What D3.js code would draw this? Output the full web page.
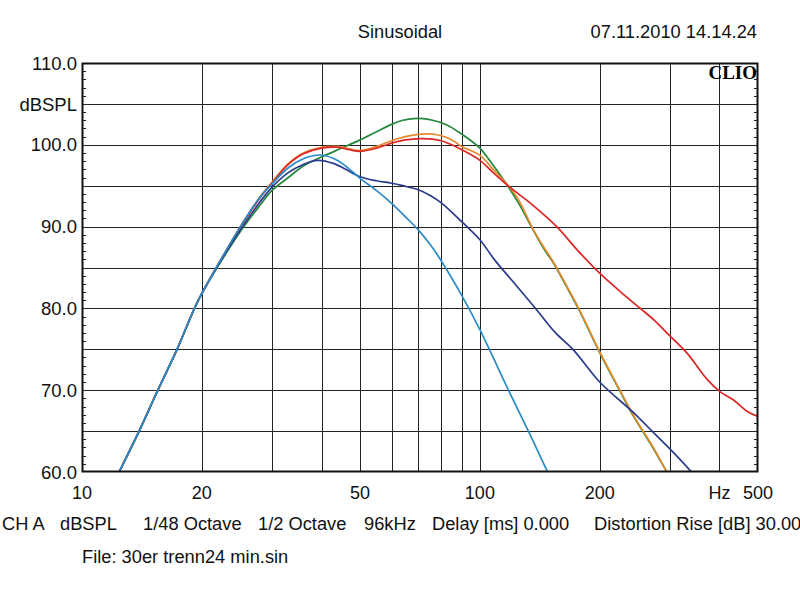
<!DOCTYPE html>
<html>
<head>
<meta charset="utf-8">
<script src="https://cdn.jsdelivr.net/npm/d3@7"></script>
<style>
  html, body { margin: 0; padding: 0; background: #fff; }
  svg { display: block; }
  text { font-family: "Liberation Sans", Arial, sans-serif; fill: #111; }
  text.clio { font-family: "Liberation Serif", "DejaVu Serif", serif; font-weight: bold; fill: #000; }
</style>
</head>
<body>
<svg id="chart" width="800" height="597"></svg>
<script>
// ---------- data ----------
const titleText = "Sinusoidal";
const dateText = "07.11.2010 14.14.24";
const xTickValues = [10, 20, 50, 100, 200, 400, 500];
const xTickLabels = ["10", "20", "50", "100", "200", "Hz", "500"];
const xGridValues = [20, 30, 40, 50, 60, 70, 80, 90, 100, 200, 300, 400];
const yTickValues = [110, 105, 100, 90, 80, 70, 60];
const yTickLabels = ["110.0", "dBSPL", "100.0", "90.0", "80.0", "70.0", "60.0"];
const footerItems = ["CH A", "dBSPL", "1/48 Octave", "1/2 Octave", "96kHz", "Delay [ms] 0.000", "Distortion Rise [dB] 30.00"];
const fileText = "File: 30er trenn24 min.sin";

const redFreq = [12, 12.4, 13.86, 15.47, 17.3, 19.17, 20, 22, 25, 28, 30, 33, 36, 40, 44, 47, 50, 55, 60, 65, 71, 76, 80, 85, 90, 100, 108, 117, 125, 136, 156, 176, 200, 226, 253, 275, 295, 332, 373, 402, 434, 470, 500];
const redDb   = [58.6, 60, 64.8, 69.9, 74.9, 80, 81.8, 85.4, 89.9, 93.5, 95.3, 97.6, 98.9, 99.6, 99.7, 99.4, 99.2, 99.6, 100.2, 100.6, 100.75, 100.7, 100.5, 100.0, 99.4, 98.1, 96.6, 95.1, 94.0, 92.6, 90.0, 87.1, 84.3, 82.0, 80.0, 78.5, 77.0, 74.5, 71.3, 69.8, 68.8, 67.4, 66.8];

const orangeFreq = [12, 12.4, 13.86, 15.47, 17.3, 19.17, 20, 22, 25, 28, 30, 33, 36, 40, 44, 47, 50, 55, 60, 65, 71, 76, 80, 85, 90, 100, 108, 117, 125, 136, 146, 152, 165, 178, 200, 226, 244, 272, 295, 300];
const orangeDb   = [58.6, 60, 64.8, 69.9, 74.9, 80, 81.8, 85.4, 90.0, 93.6, 95.4, 97.7, 99.0, 99.7, 99.8, 99.5, 99.3, 99.8, 100.5, 101.0, 101.3, 101.3, 101.1, 100.6, 99.8, 98.7, 97.0, 95.2, 93.3, 89.7, 87.2, 85.9, 82.8, 79.8, 74.7, 69.8, 66.8, 63.1, 60.0, 59.4];

const greenFreq = [12, 12.4, 13.86, 15.47, 17.3, 19.17, 20, 22, 25, 28, 30, 33, 36, 40, 45, 50, 55, 60, 64, 68, 72, 76, 81, 85, 90, 95, 100, 108, 117, 125, 136, 146, 152, 165, 178, 200, 226, 244, 272, 295, 300];
const greenDb   = [58.6, 60, 64.8, 69.9, 74.9, 80, 81.8, 85.2, 89.4, 92.6, 94.4, 96.0, 97.4, 98.5, 99.6, 100.6, 101.6, 102.5, 103.0, 103.2, 103.2, 103.0, 102.6, 102.1, 101.3, 100.5, 99.6, 97.5, 95.1, 92.9, 89.6, 87.0, 85.8, 82.7, 79.7, 74.6, 69.7, 66.7, 63.0, 60.0, 59.4];

const navyFreq = [12, 12.4, 13.86, 15.47, 17.3, 19.17, 20, 22, 25, 28, 30, 33, 36, 39, 43, 46, 50, 55, 60, 64, 70, 75, 80, 90, 100, 109, 120, 139, 155, 172, 200, 244, 272, 302, 340, 345];
const navyDb   = [58.6, 60, 64.8, 69.9, 74.9, 80, 81.8, 85.3, 89.6, 93.0, 94.8, 96.6, 97.6, 98.1, 97.7, 97.0, 96.1, 95.6, 95.3, 95.0, 94.5, 93.8, 92.9, 90.6, 88.4, 85.9, 83.5, 79.8, 77.0, 74.9, 71.0, 67.2, 64.9, 62.7, 60.0, 59.6];

const blueFreq = [12, 12.4, 13.86, 15.47, 17.3, 19.17, 20, 22, 25, 28, 30, 33, 36, 39.6, 42.8, 46, 50, 55, 60, 65, 70, 75, 80, 90, 100, 118, 133, 148, 150];
const blueDb   = [58.6, 60, 64.8, 69.9, 74.9, 80, 81.8, 85.4, 90.0, 93.6, 95.2, 97.2, 98.3, 98.75, 98.35, 97.4, 95.9, 94.4, 92.85, 91.2, 89.6, 87.8, 85.8, 81.6, 77.4, 70.0, 64.8, 60.0, 59.5];

const seriesNames = ["green", "orange", "red", "navy", "blue"];
const seriesColors = ["#23883a", "#e58a2c", "#dd2626", "#2b3b8c", "#2a8cc6"];

// ---------- layout ----------
const svg = d3.select("#chart");
const plotL = 82, plotR = 758, plotT = 63, plotB = 472;

const x = d3.scaleLog().domain([10, 500]).range([plotL, plotR]);
const y = d3.scaleLinear().domain([60, 110]).range([plotB, plotT]);

// grid
const grid = svg.append("g").attr("stroke", "#222").attr("stroke-width", 1).attr("shape-rendering", "crispEdges");
grid.selectAll("line.v").data(xGridValues).join("line")
  .attr("x1", d => Math.round(x(d)) + 0.5).attr("x2", d => Math.round(x(d)) + 0.5)
  .attr("y1", plotT).attr("y2", plotB);
grid.selectAll("line.h").data(d3.range(65, 110, 5)).join("line")
  .attr("x1", plotL).attr("x2", plotR)
  .attr("y1", d => Math.round(y(d)) + 0.5).attr("y2", d => Math.round(y(d)) + 0.5);

// minor ticks (1 dB) left and right
const minor = d3.range(61, 110, 1).filter(d => d % 5 !== 0);
const tickG = svg.append("g").attr("stroke", "#222").attr("stroke-width", 1).attr("shape-rendering", "crispEdges");
tickG.append("g").selectAll("line").data(minor).join("line")
  .attr("x1", plotL).attr("x2", plotL + 4)
  .attr("y1", d => Math.round(y(d)) + 0.5).attr("y2", d => Math.round(y(d)) + 0.5);
tickG.append("g").selectAll("line").data(minor).join("line")
  .attr("x1", plotR - 4).attr("x2", plotR)
  .attr("y1", d => Math.round(y(d)) + 0.5).attr("y2", d => Math.round(y(d)) + 0.5);

// clip
svg.append("clipPath").attr("id", "plotclip").append("rect")
  .attr("x", plotL).attr("y", plotT).attr("width", plotR - plotL).attr("height", plotB - plotT);

const line = d3.line().x(d => x(d[0])).y(d => y(d[1])).curve(d3.curveCatmullRom.alpha(0.5));
const seriesData = [
  d3.zip(greenFreq, greenDb),
  d3.zip(orangeFreq, orangeDb),
  d3.zip(redFreq, redDb),
  d3.zip(navyFreq, navyDb),
  d3.zip(blueFreq, blueDb)
];
svg.append("g").attr("clip-path", "url(#plotclip)")
  .selectAll("path").data(seriesData).join("path")
  .attr("d", line)
  .attr("fill", "none")
  .attr("stroke", (d, i) => seriesColors[i])
  .attr("stroke-width", 1.7);

// frame
svg.append("rect").attr("x", plotL + 0.5).attr("y", plotT + 0.5)
  .attr("width", plotR - plotL - 1).attr("height", plotB - plotT - 1)
  .attr("fill", "none").attr("stroke", "#111").attr("stroke-width", 2);

// y labels
svg.append("g").selectAll("text").data(yTickValues).join("text")
  .attr("x", 77).attr("y", d => y(d))
  .attr("dy", "0.36em")
  .attr("text-anchor", "end")
  .attr("font-size", 18.5)
  .text((d, i) => yTickLabels[i]);

// x labels
svg.append("g").selectAll("text").data(xTickValues).join("text")
  .attr("x", d => x(d)).attr("y", 499)
  .attr("text-anchor", "middle")
  .attr("font-size", 18)
  .text((d, i) => xTickLabels[i]);

// title + date
svg.append("text").attr("x", 400).attr("y", 38).attr("text-anchor", "middle")
  .attr("font-size", 18.3).text(titleText);
svg.append("text").attr("x", 757).attr("y", 38).attr("text-anchor", "end")
  .attr("font-size", 18.3).text(dateText);

// CLIO
svg.append("text").attr("class", "clio").attr("x", 757).attr("y", 79).attr("text-anchor", "end")
  .attr("font-size", 19).text("CLIO");

// footer
const footerX = [2, 60, 143, 258, 364, 432, 594];
svg.append("g").selectAll("text").data(footerItems).join("text")
  .attr("x", (d, i) => footerX[i]).attr("y", 530)
  .attr("font-size", 18.3)
  .text(d => d);
svg.append("text").attr("x", 82).attr("y", 563).attr("font-size", 18.3).text(fileText);
</script>
</body>
</html>
